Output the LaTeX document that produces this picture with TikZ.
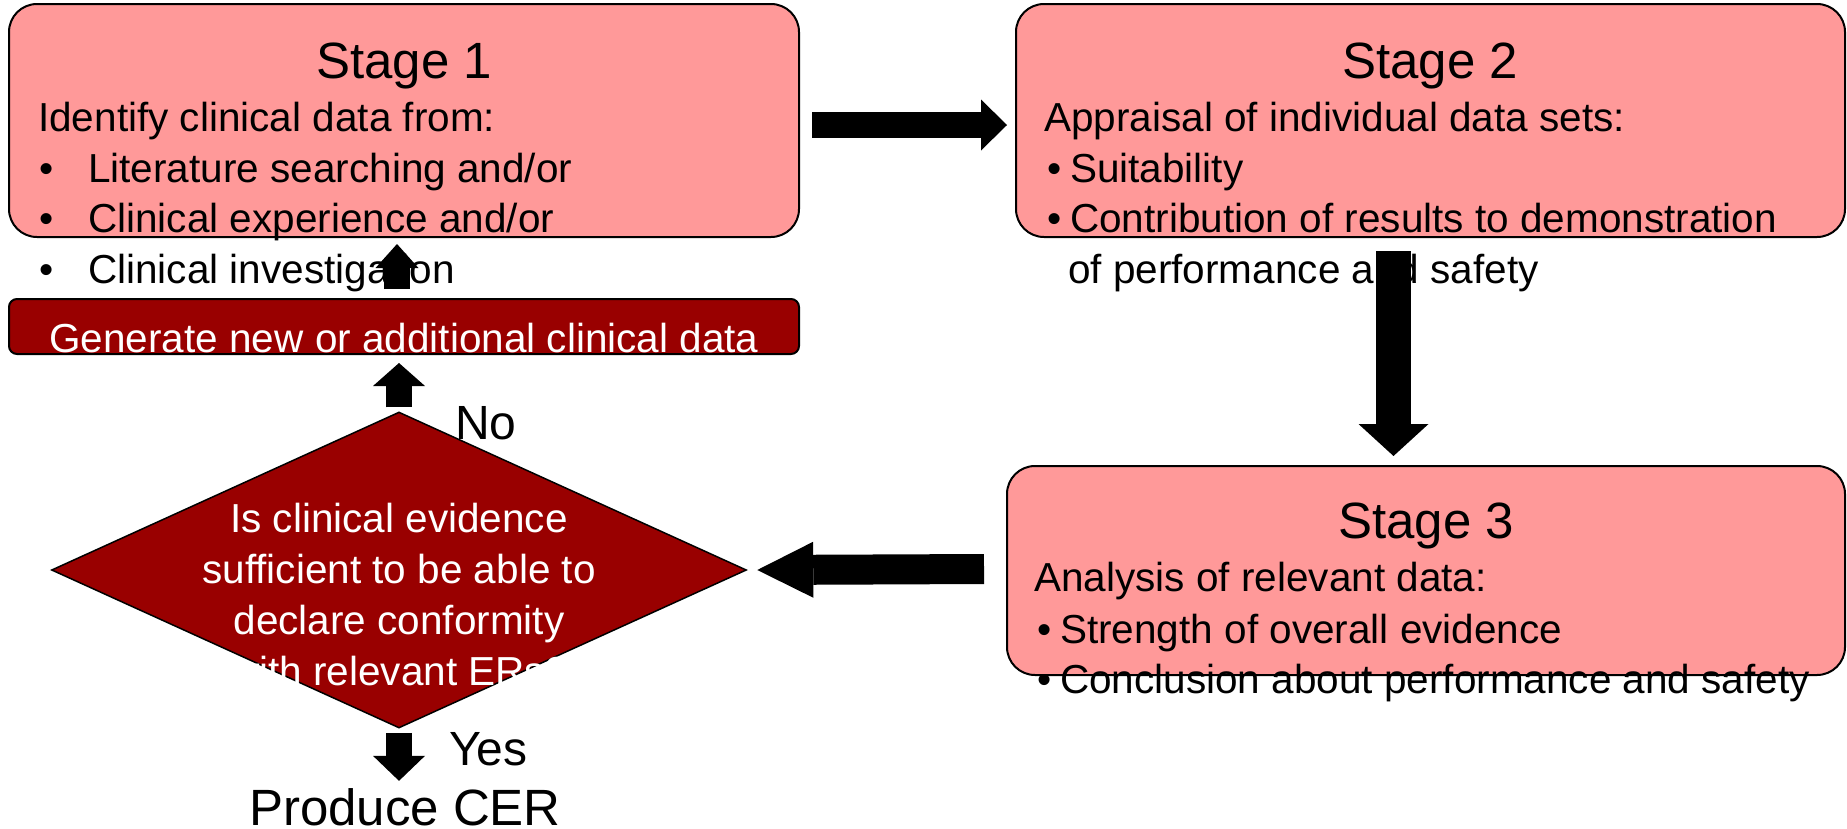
\documentclass[tikz,border=0pt]{standalone}
\usepackage{fontspec}
\setmainfont{Liberation Sans}
\usetikzlibrary{arrows.meta,shapes.geometric}
\definecolor{pinkfill}{RGB}{255,153,153}
\definecolor{darkred}{RGB}{153,0,0}
\newcommand{\bodyfnt}{\fontsize{40.5}{51}\selectfont}
\newcommand{\titlefnt}{\fontsize{51}{60}\selectfont}
\begin{document}
\begin{tikzpicture}[x=1pt,y=-1pt,
  stagebox/.style={draw=black, line width=2pt, fill=pinkfill, rounded corners=28pt, inner sep=0pt},
  genbox/.style={draw=black, line width=2pt, fill=darkred, rounded corners=8pt, inner sep=0pt},
  decbox/.style={diamond, draw=black, line width=1.5pt, fill=darkred, inner sep=0pt},
  txt/.style={anchor=base west, inner sep=0pt, font=\bodyfnt},
  ttl/.style={anchor=base, inner sep=0pt, font=\titlefnt},
  blk/.style n args={3}{draw=black, line width=#1, -{Triangle[width=#2,length=#3,line width=0pt]}}
]
\useasboundingbox (0,0) rectangle (1847,828);

% boxes
\node[stagebox, minimum width=790pt, minimum height=233pt] (s1) at (404,120.5) {};
\node[stagebox, minimum width=829pt, minimum height=233pt] (s2) at (1430.5,120.5) {};
\node[stagebox, minimum width=838pt, minimum height=209pt] (s3) at (1426,570.5) {};
\node[genbox, minimum width=790pt, minimum height=55pt] (gen) at (404,326.5) {};
\node[decbox, minimum width=695pt, minimum height=316pt] (dia) at (399,570) {};

% Stage 1 text
\node[ttl] (s1t) at (404,78) {Stage 1};
\node[txt] (s1a) at (38,131) {Identify clinical data from:};
\node[txt] (s1b) at (39,182) {\makebox[49pt][l]{•}Literature searching and/or};
\node[txt] (s1c) at (39,232) {\makebox[49pt][l]{•}Clinical experience and/or};
\node[txt] (s1d) at (39,283) {\makebox[49pt][l]{•}Clinical investigation};

% Stage 2 text
\node[ttl] (s2t) at (1430,78) {Stage 2};
\node[txt] (s2a) at (1044,131) {Appraisal of individual data sets:};
\node[txt] (s2b) at (1047,182) {\makebox[23pt][l]{•}Suitability};
\node[txt] (s2c) at (1047,232) {\makebox[23pt][l]{•}Contribution of results to demonstration};
\node[txt] (s2d) at (1068,283) {of performance and safety};

% Stage 3 text
\node[ttl] (s3t) at (1426,538) {Stage 3};
\node[txt] (s3a) at (1034,591) {Analysis of relevant data:};
\node[txt] (s3b) at (1037,643) {\makebox[23pt][l]{•}Strength of overall evidence};
\node[txt] (s3c) at (1037,693) {\makebox[23pt][l]{•}Conclusion about performance and safety};

% generate text
\node[anchor=base, inner sep=0pt, font=\bodyfnt, text=white] (gent) at (404,352) {Generate new or additional clinical data};

% decision text (anchor base = baseline of last line)
\node[anchor=base, inner sep=0pt, font=\bodyfnt, text=white, align=center] (diat) at (399,685)
  {Is clinical evidence\\sufficient to be able to\\declare conformity\\with relevant ERs?};

% labels
\node[anchor=base west, inner sep=0pt, font=\fontsize{48}{56}\selectfont] (no) at (455,439) {No};
\node[anchor=base west, inner sep=0pt, font=\fontsize{48}{56}\selectfont] (yes) at (449,765) {Yes};
\node[anchor=base, inner sep=0pt, font=\titlefnt] (out) at (405,825) {Produce CER};

% arrows
\draw[blk={26pt}{51pt}{26pt}] ([xshift=12pt,yshift=-4.5pt]s1.east) -- ([xshift=-8pt,yshift=-4.5pt]s2.west);
\draw[blk={35pt}{70pt}{32pt}] ([xshift=-37pt,yshift=-13pt]s2.south) -- ([xshift=-32.5pt,yshift=9pt]s3.north);
\draw[blk={30pt}{56pt}{56pt}] ([xshift=-22pt,yshift=1.5pt]s3.west) -- ([xshift=10pt]dia.east);
\draw[blk={26pt}{52pt}{23pt}] ([yshift=4pt]dia.north) -- ([xshift=-5pt,yshift=-8pt]gen.south);
\draw[blk={26pt}{43pt}{24pt}] ([xshift=-7pt,yshift=9pt]gen.north) -- ([xshift=-7pt,yshift=-6pt]s1.south);
\draw[blk={26pt}{52pt}{25pt}] ([yshift=-4pt]dia.south) -- ([xshift=-6pt,yshift=7pt]out.north);
\end{tikzpicture}
\end{document}
